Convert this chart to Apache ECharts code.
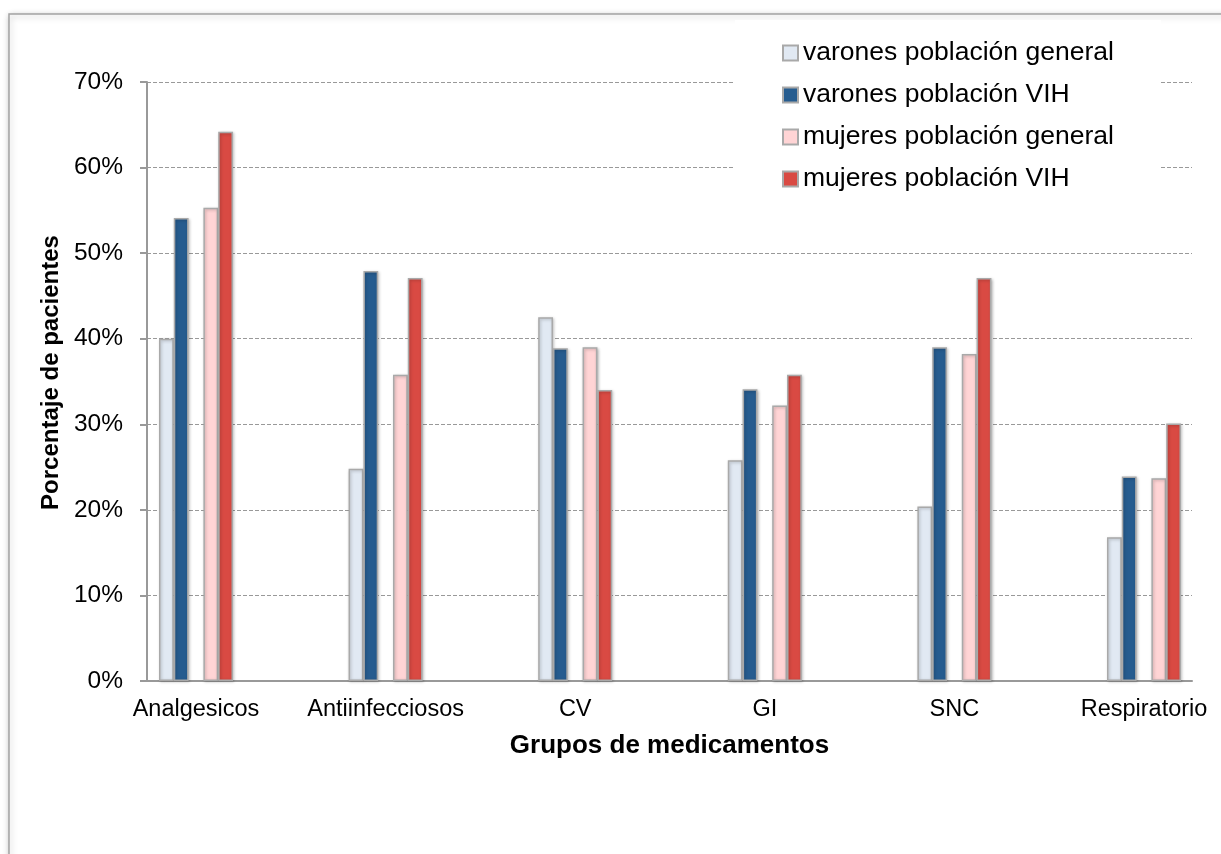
<!DOCTYPE html>
<html>
<head>
<meta charset="utf-8">
<script src="https://cdn.jsdelivr.net/npm/echarts@6/dist/echarts.min.js"></script>
<style>
html,body{margin:0;padding:0;background:#fff;overflow:hidden;width:1221px;height:854px;}
#main{width:1260px;height:854px;}
</style>
</head>
<body>
<div id="main"></div>
<script>
const categories = ['Analgesicos', 'Antiinfecciosos', 'CV', 'GI', 'SNC', 'Respiratorio'];
const seriesNames = ['varones población general', 'varones población VIH', 'mujeres población general', 'mujeres población VIH'];
const varonesGeneral = [40.0, 24.8, 42.5, 25.8, 20.4, 16.8];
const varonesVIH = [54.1, 47.9, 38.9, 34.1, 39.0, 23.9];
const mujeresGeneral = [55.3, 35.8, 39.0, 32.2, 38.2, 23.7];
const mujeresVIH = [64.2, 47.1, 34.0, 35.8, 47.1, 30.1];
const yTicks = [0, 10, 20, 30, 40, 50, 60, 70];
const colors = ['#E1E9F3', '#265C8F', '#FFD4D5', '#D94A43'];

const font = 'Liberation Sans, Arial, sans-serif';
const chart = echarts.init(document.getElementById('main'), null, {renderer: 'canvas'});

function barSeries(name, data, color) {
  return {
    name: name, type: 'bar', xAxisIndex: 1, yAxisIndex: 1,
    data: data, barWidth: 14.8, barGap: '0%',
    itemStyle: {
      color: color, borderColor: '#a9a9a9', borderWidth: 1.5,
      shadowColor: 'rgba(0,0,0,0.25)', shadowBlur: 3, shadowOffsetX: 1, shadowOffsetY: 1
    }
  };
}

const option = {
  animation: false,
  backgroundColor: '#fff',
  graphic: [{
    type: 'rect', z: -10, silent: true,
    shape: {x: 9, y: 14, width: 1400, height: 1000},
    style: {fill: '#fff', stroke: '#a3a3a3', lineWidth: 1.5,
      shadowColor: 'rgba(0,0,0,0.25)', shadowBlur: 6, shadowOffsetX: 1, shadowOffsetY: 2}
  }],
  grid: [
    {left: 147, width: 1045, top: 82, bottom: 173},
    {left: 101.2, width: 1137.6, top: 82, bottom: 173}
  ],
  legend: {
    orient: 'vertical', left: 735, top: 20,
    data: seriesNames,
    icon: 'rect', itemWidth: 15, itemHeight: 15, itemGap: 12,
    padding: [18, 47, 18, 47],
    backgroundColor: '#fff',
    textStyle: {fontFamily: font, fontSize: 26.5, color: '#000', lineHeight: 30}
  },
  xAxis: [
    {
      type: 'category', gridIndex: 0, data: categories,
      axisLine: {show: true, lineStyle: {color: '#999', width: 2}},
      axisTick: {show: false}, axisLabel: {show: false}, splitLine: {show: false},
      name: 'Grupos de medicamentos', nameLocation: 'middle', nameGap: 52,
      nameTextStyle: {fontFamily: font, fontSize: 26, fontWeight: 'bold', color: '#000'}
    },
    {
      type: 'category', gridIndex: 1, data: categories,
      axisLine: {show: false}, axisTick: {show: false}, splitLine: {show: false},
      axisLabel: {fontFamily: font, fontSize: 23.5, color: '#000', margin: 17, interval: 0, hideOverlap: false}
    }
  ],
  yAxis: [
    {
      type: 'value', gridIndex: 0, min: 0, max: 70, interval: 10,
      axisLine: {show: true, lineStyle: {color: '#999', width: 2}},
      axisTick: {show: true, length: 7, lineStyle: {color: '#999', width: 2}},
      axisLabel: {fontFamily: font, fontSize: 24.5, color: '#000', margin: 24,
        formatter: v => yTicks.includes(v) ? v + '%' : ''},
      splitLine: {show: true, lineStyle: {color: '#999', width: 1, type: [4, 2]}},
      name: 'Porcentaje de pacientes', nameLocation: 'middle', nameGap: 80, nameRotate: 90,
      nameTextStyle: {fontFamily: font, fontSize: 24, fontWeight: 'bold', color: '#000', padding: [0, 0, 0, 18]}
    },
    {
      type: 'value', gridIndex: 1, min: 0, max: 70, interval: 10,
      show: false, splitLine: {show: false}
    }
  ],
  series: [
    barSeries(seriesNames[0], varonesGeneral, colors[0]),
    barSeries(seriesNames[1], varonesVIH, colors[1]),
    {name: 'gap', type: 'bar', xAxisIndex: 1, yAxisIndex: 1, barWidth: 14.8, barGap: '0%',
      data: categories.map(() => '-')},
    barSeries(seriesNames[2], mujeresGeneral, colors[2]),
    barSeries(seriesNames[3], mujeresVIH, colors[3])
  ]
};
chart.setOption(option);
</script>
</body>
</html>
